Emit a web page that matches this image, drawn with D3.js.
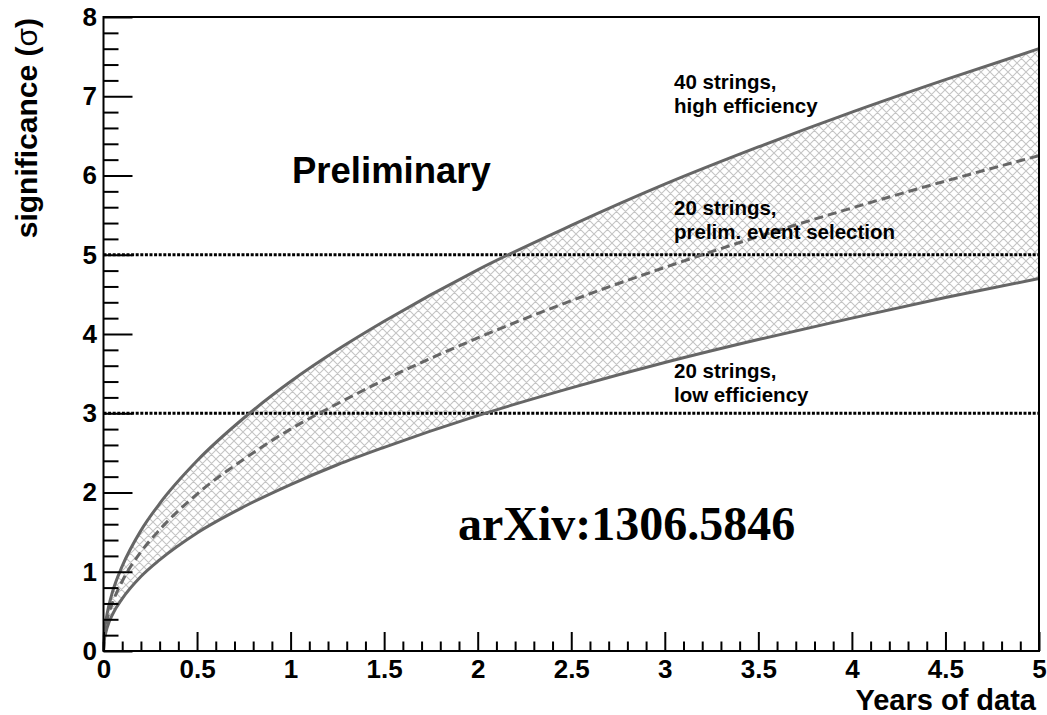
<!DOCTYPE html>
<html>
<head>
<meta charset="utf-8">
<script src="https://cdn.jsdelivr.net/npm/d3@7"></script>
<style>
  body { margin: 0; background: #fff; }
  svg { display: block; }
  text { font-family: "Liberation Sans", Arial, Helvetica, sans-serif; font-weight: bold; fill: #000; }
</style>
</head>
<body>
<svg id="chart" width="1047" height="715"></svg>
<script>
// years of data and the significance
var years    = [0, 0.005, 0.01, 0.02, 0.05, 0.1, 0.2, 0.3, 0.5, 0.75, 1, 1.25, 1.5, 2, 2.5, 3, 3.5, 4, 4.5, 5];
var high40   = [0, 0.24, 0.34, 0.48, 0.76, 1.07, 1.52, 1.86, 2.40, 2.94, 3.40, 3.80, 4.16, 4.81, 5.37, 5.89, 6.36, 6.80, 7.21, 7.60];
var prelim20 = [0, 0.20, 0.28, 0.40, 0.62, 0.88, 1.25, 1.53, 1.98, 2.42, 2.80, 3.12, 3.42, 3.95, 4.42, 4.84, 5.23, 5.59, 5.93, 6.25];
var low20    = [0, 0.15, 0.21, 0.30, 0.47, 0.66, 0.94, 1.15, 1.49, 1.82, 2.10, 2.35, 2.57, 2.97, 3.32, 3.64, 3.93, 4.20, 4.46, 4.70];

var xMajor = [0, 0.5, 1, 1.5, 2, 2.5, 3, 3.5, 4, 4.5, 5];
var xMinor = [0.1, 0.2, 0.3, 0.4, 0.6, 0.7, 0.8, 0.9, 1.1, 1.2, 1.3, 1.4, 1.6, 1.7, 1.8, 1.9,
              2.1, 2.2, 2.3, 2.4, 2.6, 2.7, 2.8, 2.9, 3.1, 3.2, 3.3, 3.4, 3.6, 3.7, 3.8, 3.9,
              4.1, 4.2, 4.3, 4.4, 4.6, 4.7, 4.8, 4.9];
var yMajor = [0, 1, 2, 3, 4, 5, 6, 7, 8];
var yMinor = [0.2, 0.4, 0.6, 0.8, 1.2, 1.4, 1.6, 1.8, 2.2, 2.4, 2.6, 2.8, 3.2, 3.4, 3.6, 3.8,
              4.2, 4.4, 4.6, 4.8, 5.2, 5.4, 5.6, 5.8, 6.2, 6.4, 6.6, 6.8, 7.2, 7.4, 7.6, 7.8];
var refLevels = [3, 5];

(function () {
  var svg = d3.select('#chart');
  var pl = 103.5, pr = 1039, pt = 17, pb = 651;

  var x = d3.scaleLinear().domain([0, 5]).range([pl, pr]);
  var y = d3.scaleLinear().domain([0, 8]).range([pb, pt]);

  var pts = years.map(function (t, i) {
    return { t: t, hi: high40[i], mid: prelim20[i], lo: low20[i] };
  });

  // cross hatch for the band
  var s = 9;
  var pat = svg.append('defs').append('pattern')
      .attr('id', 'hatch')
      .attr('patternUnits', 'userSpaceOnUse')
      .attr('width', s).attr('height', s);
  pat.append('path')
      .attr('d', 'M0,0L' + s + ',' + s + 'M0,' + s + 'L' + s + ',0' +
                 'M-1,1L1,-1M' + (s - 1) + ',' + (s + 1) + 'L' + (s + 1) + ',' + (s - 1) +
                 'M-1,' + (s - 1) + 'L1,' + (s + 1) + 'M' + (s - 1) + ',-1L' + (s + 1) + ',1')
      .attr('stroke', '#c4c4c4').attr('stroke-width', 1.1).attr('fill', 'none');

  var curve = d3.curveMonotoneX;

  svg.append('path')
      .datum(pts)
      .attr('fill', 'url(#hatch)')
      .attr('d', d3.area().curve(curve)
        .x(function (d) { return x(d.t); })
        .y0(function (d) { return y(d.lo); })
        .y1(function (d) { return y(d.hi); }));

  // 3 and 5 sigma reference lines
  svg.selectAll('line.ref')
      .data(refLevels)
      .enter().append('line')
      .attr('class', 'ref')
      .attr('x1', x(0)).attr('x2', x(5))
      .attr('y1', function (d) { return y(d); })
      .attr('y2', function (d) { return y(d); })
      .attr('stroke', '#000').attr('stroke-width', 3)
      .attr('stroke-dasharray', '3,1.6');

  function line(key) {
    return d3.line().curve(curve)
      .x(function (d) { return x(d.t); })
      .y(function (d) { return y(d[key]); });
  }

  svg.append('path').datum(pts).attr('d', line('hi'))
      .attr('fill', 'none').attr('stroke', '#666').attr('stroke-width', 3);
  svg.append('path').datum(pts).attr('d', line('lo'))
      .attr('fill', 'none').attr('stroke', '#666').attr('stroke-width', 3);
  svg.append('path').datum(pts).attr('d', line('mid'))
      .attr('fill', 'none').attr('stroke', '#666').attr('stroke-width', 3)
      .attr('stroke-dasharray', '9,5');

  // axes: ticks point inward like ROOT
  svg.append('g').attr('transform', 'translate(0,' + pb + ')')
      .call(d3.axisBottom(x).tickValues(xMajor).tickSizeInner(-19).tickSizeOuter(0)
        .tickPadding(8.5).tickFormat(function (d) { return String(d); }));
  svg.append('g').attr('transform', 'translate(0,' + pb + ')')
      .call(d3.axisBottom(x).tickValues(xMinor).tickSizeInner(-9.5).tickSizeOuter(0)
        .tickFormat(''));

  svg.append('g').attr('transform', 'translate(' + pl + ',0)')
      .call(d3.axisLeft(y).tickValues(yMajor).tickSizeInner(-29).tickSizeOuter(0)
        .tickPadding(6.5).tickFormat(function (d) { return String(d); }));
  svg.append('g').attr('transform', 'translate(' + pl + ',0)')
      .call(d3.axisLeft(y).tickValues(yMinor).tickSizeInner(-15).tickSizeOuter(0)
        .tickFormat(''));

  svg.selectAll('.domain').remove();
  svg.selectAll('.tick line').attr('stroke', '#000').attr('stroke-width', 2);
  svg.selectAll('.tick text')
      .style('font-family', '"Liberation Sans", Arial, sans-serif')
      .style('font-weight', 'bold')
      .style('font-size', '26px')
      .attr('fill', '#000');

  // frame
  svg.append('rect')
      .attr('x', pl).attr('y', pt)
      .attr('width', pr - pl).attr('height', pb - pt)
      .attr('fill', 'none').attr('stroke', '#000').attr('stroke-width', 2);

  // axis titles
  var yt = svg.append('text')
      .attr('transform', 'translate(37,18) rotate(-90)')
      .attr('text-anchor', 'end')
      .style('font-size', '30px');
  yt.append('tspan').text('significance (');
  yt.append('tspan').style('font-weight', 'normal').text('σ');
  yt.append('tspan').text(')');

  svg.append('text')
      .attr('x', 1036).attr('y', 710)
      .attr('text-anchor', 'end')
      .style('font-size', '29px')
      .text('Years of data');

  // annotations
  svg.append('text').attr('x', 292).attr('y', 183)
      .style('font-size', '36.5px').text('Preliminary');

  var notes = [
    { x: 674, y: 89,  lines: ['40 strings,', 'high efficiency'] },
    { x: 674, y: 215, lines: ['20 strings,', 'prelim. event selection'] },
    { x: 674, y: 378, lines: ['20 strings,', 'low efficiency'] }
  ];
  notes.forEach(function (n) {
    var t = svg.append('text').attr('x', n.x).attr('y', n.y).style('font-size', '20.5px');
    n.lines.forEach(function (s, i) {
      t.append('tspan').attr('x', n.x).attr('dy', i === 0 ? 0 : 24).text(s);
    });
  });

  svg.append('text').attr('x', 458).attr('y', 540)
      .style('font-family', '"Liberation Serif", "Times New Roman", serif')
      .style('font-size', '48px')
      .text('arXiv:1306.5846');
})();
</script>
</body>
</html>
